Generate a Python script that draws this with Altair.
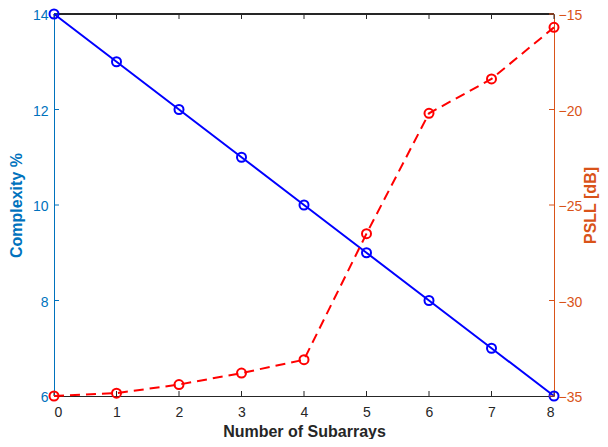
import altair as alt
import pandas as pd

# ---- data ----
subarrays = [0, 1, 2, 3, 4, 5, 6, 7, 8]
complexity = [14, 13, 12, 11, 10, 9, 8, 7, 6]
psll = [-35.0, -34.85, -34.4, -33.8, -33.1, -26.5, -20.2, -18.4, -15.7]
x_ticks = [0, 1, 2, 3, 4, 5, 6, 7, 8]
left_ticks = [6, 8, 10, 12, 14]
right_ticks = [-35, -30, -25, -20, -15]

W, H = 500, 382
FONT = "Liberation Sans"
BLUE_AX = "#0072BD"
ORANGE_AX = "#D95319"
DARK = "#262626"

df = pd.DataFrame({"n": subarrays, "c": complexity, "p": psll})
df_xt = pd.DataFrame({"n": x_ticks})
df_lt = pd.DataFrame({"c": left_ticks})
df_rt = pd.DataFrame({"p": right_ticks})

x_scale = alt.Scale(domain=[0, 8], nice=False, zero=False)
x_enc = alt.X(
    "n:Q", scale=x_scale,
    axis=alt.Axis(title="Number of Subarrays", values=x_ticks, tickSize=0,
                  labelPadding=9, labelFontSize=14, labelColor=DARK, labelFont=FONT,
                  domainColor=DARK, domainWidth=1, grid=False,
                  titleFontSize=16, titleFontWeight="bold", titleColor=DARK,
                  titleFont=FONT, titlePadding=4.5, format="d"),
)
yl_scale = alt.Scale(domain=[6, 14], nice=False, zero=False)
yl_enc = alt.Y(
    "c:Q", scale=yl_scale,
    axis=alt.Axis(title="Complexity %", values=left_ticks, tickSize=0, orient="left",
                  labelPadding=6, labelOffset=1.5, labelFontSize=14, labelColor=BLUE_AX,
                  labelFont=FONT, domainColor=BLUE_AX, grid=False,
                  titleFontSize=16, titleFontWeight="bold", titleColor=BLUE_AX,
                  titleFont=FONT, titlePadding=8),
)
yr_scale = alt.Scale(domain=[-35, -15], nice=False, zero=False)
yr_enc = alt.Y(
    "p:Q", scale=yr_scale,
    axis=alt.Axis(title="PSLL [dB]", values=right_ticks, tickSize=0, orient="right",
                  labelPadding=4, labelOffset=1.5, labelFontSize=14, labelColor=ORANGE_AX,
                  labelFont=FONT, domainColor=ORANGE_AX, grid=False,
                  titleAngle=270, titleBaseline="top",
                  titleFontSize=16, titleFontWeight="bold", titleColor=ORANGE_AX,
                  titleFont=FONT, titlePadding=1),
)

# ---- left (blue) group ----
blue_line = alt.Chart(df).mark_line(color="#0000FF", strokeWidth=2).encode(x=x_enc, y=yl_enc)
blue_pts = alt.Chart(df).mark_point(shape="circle", filled=False, color="#0000FF",
                                    size=81, strokeWidth=2, opacity=1).encode(x=x_enc, y=yl_enc)
left_ticks_m = alt.Chart(df_lt).mark_rule(color=BLUE_AX, strokeWidth=1).encode(
    y=yl_enc, x=alt.value(0), x2=alt.value(5))
bottom_ticks = alt.Chart(df_xt).mark_rule(color=DARK, strokeWidth=1).encode(
    x=x_enc, y=alt.value(H), y2=alt.value(H - 5))
top_ticks = alt.Chart(df_xt).mark_rule(color=DARK, strokeWidth=1).encode(
    x=x_enc, y=alt.value(0), y2=alt.value(5))
top_border = alt.Chart(df_xt).mark_rule(color=DARK, strokeWidth=1).encode(
    x=alt.value(0), x2=alt.value(W), y=alt.value(0))

left_group = alt.layer(top_border, top_ticks, bottom_ticks, left_ticks_m, blue_line, blue_pts)

# ---- right (red) group ----
red_line = alt.Chart(df).mark_line(color="#FF0000", strokeWidth=2, strokeDash=[10, 6]).encode(
    x=x_enc, y=yr_enc)
red_pts = alt.Chart(df).mark_point(shape="circle", filled=False, color="#FF0000",
                                   size=81, strokeWidth=2, opacity=1).encode(x=x_enc, y=yr_enc)
right_ticks_m = alt.Chart(df_rt).mark_rule(color=ORANGE_AX, strokeWidth=1).encode(
    y=yr_enc, x=alt.value(W), x2=alt.value(W - 5))

right_group = alt.layer(right_ticks_m, red_line, red_pts)

chart = (
    alt.layer(left_group, right_group)
    .resolve_scale(y="independent")
    .properties(width=W, height=H,
                autosize=alt.AutoSizeParams(type="none"),
                padding={"left": 46, "top": 6, "right": 46, "bottom": 43})
    .configure_view(stroke=None)
    .configure(background="white")
)

chart.save("out.html", embed_options={"renderer": "svg", "actions": False})
